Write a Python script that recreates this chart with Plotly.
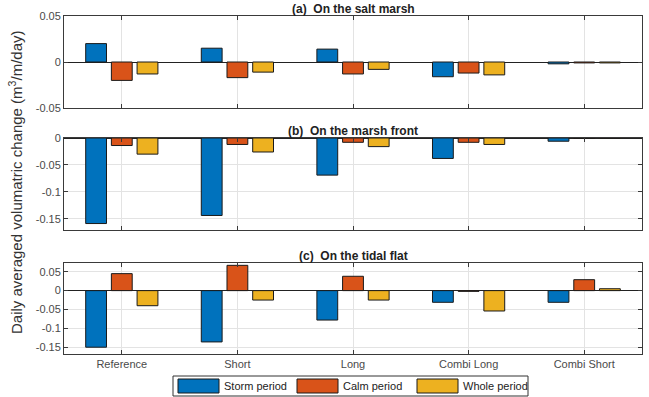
import plotly.graph_objects as go

categories = ["Reference", "Short", "Long", "Combi Long", "Combi Short"]
series_names = ["Storm period", "Calm period", "Whole period"]

# Panel (a) On the salt marsh
salt_storm = [0.020, 0.015, 0.014, -0.016, -0.002]
salt_calm = [-0.020, -0.017, -0.013, -0.012, -0.001]
salt_whole = [-0.013, -0.011, -0.008, -0.014, -0.001]

# Panel (b) On the marsh front
front_storm = [-0.159, -0.144, -0.069, -0.038, -0.006]
front_calm = [-0.014, -0.012, -0.008, -0.008, -0.0008]
front_whole = [-0.030, -0.026, -0.016, -0.012, -0.0008]

# Panel (c) On the tidal flat
flat_storm = [-0.150, -0.136, -0.078, -0.031, -0.031]
flat_calm = [0.045, 0.067, 0.038, -0.002, 0.029]
flat_whole = [-0.040, -0.025, -0.025, -0.054, 0.005]

panel_titles = ["(a)  On the salt marsh", "(b)  On the marsh front", "(c)  On the tidal flat"]
yticks_a = [-0.05, 0, 0.05]
yticks_b = [-0.15, -0.1, -0.05, 0]
yticks_c = [-0.15, -0.1, -0.05, 0, 0.05]
ytext_a = ["-0.05", "0", "0.05"]
ytext_b = ["-0.15", "-0.1", "-0.05", "0"]
ytext_c = ["-0.15", "-0.1", "-0.05", "0", "0.05"]

colors = ["#0072BD", "#D95319", "#EDB120"]

W, H = 649, 397
FONT = "Liberation Sans, Arial, sans-serif"
xdom = [64 / W, 642 / W]
ydoms = [
    [1 - 108 / H, 1 - 16 / H],
    [1 - 230 / H, 1 - 138 / H],
    [1 - 354 / H, 1 - 262.7 / H],
]
yranges = [[-0.05, 0.05], [-0.171, 0.0], [-0.168, 0.074]]
yticks = [yticks_a, yticks_b, yticks_c]
ytexts = [ytext_a, ytext_b, ytext_c]
data = [
    [salt_storm, salt_calm, salt_whole],
    [front_storm, front_calm, front_whole],
    [flat_storm, flat_calm, flat_whole],
]

fig = go.Figure()
tick_font = dict(family=FONT, size=11, color="#4a4a4a")

for p in range(3):
    xa = "x" if p == 0 else f"x{p+1}"
    ya = "y" if p == 0 else f"y{p+1}"
    for s in range(3):
        fig.add_trace(go.Bar(
            x=categories, y=data[p][s], name=series_names[s],
            marker=dict(color=colors[s], line=dict(color="#1a1a1a", width=1)),
            xaxis=xa, yaxis=ya, showlegend=False,
        ))
    xkey = "xaxis" if p == 0 else f"xaxis{p+1}"
    ykey = "yaxis" if p == 0 else f"yaxis{p+1}"
    fig.layout[xkey] = dict(
        domain=xdom, anchor=ya, range=[-0.5, 4.5], type="category",
        showgrid=True, gridcolor="#e3e3e3", gridwidth=1,
        showline=True, linecolor="#3a3a3a", linewidth=1, mirror="ticks",
        ticks="inside", ticklen=4, tickcolor="#3a3a3a",
        showticklabels=(p == 2), tickfont=tick_font, fixedrange=True,
    )
    fig.layout[ykey] = dict(
        domain=ydoms[p], anchor=xa, range=yranges[p],
        tickvals=yticks[p], ticktext=ytexts[p],
        showgrid=True, gridcolor="#e3e3e3", gridwidth=1,
        zeroline=True, zerolinecolor="#222222", zerolinewidth=1,
        showline=True, linecolor="#3a3a3a", linewidth=1, mirror="ticks",
        ticks="inside", ticklen=4, tickcolor="#3a3a3a",
        tickfont=tick_font, fixedrange=True,
    )
    fig.add_annotation(
        text="<b>" + panel_titles[p] + "</b>", xref="paper", yref="paper",
        x=(xdom[0] + xdom[1]) / 2, y=ydoms[p][1], xanchor="center", yanchor="bottom",
        showarrow=False, yshift=-2,
        font=dict(family=FONT, size=12, color="#222222"),
    )

fig.add_annotation(
    text="Daily averaged volumatric change (m<sup>3</sup>/m/day)",
    xref="paper", yref="paper", x=15 / W, y=1 - 183 / H,
    xanchor="center", yanchor="middle", textangle=-90, showarrow=False,
    font=dict(family=FONT, size=15, color="#333333"),
)

# Legend box (drawn like the reference: wide colour swatches)
leg_x0, leg_x1, leg_y0, leg_y1 = 173, 528, 376, 396
fig.add_shape(type="rect", xref="paper", yref="paper",
              x0=leg_x0 / W, x1=leg_x1 / W, y0=1 - leg_y1 / H, y1=1 - leg_y0 / H,
              line=dict(color="#333333", width=1), fillcolor="white")
swatch_x = [178, 297, 417]
for s in range(3):
    fig.add_shape(type="rect", xref="paper", yref="paper",
                  x0=swatch_x[s] / W, x1=(swatch_x[s] + 41) / W,
                  y0=1 - 393 / H, y1=1 - 379 / H,
                  line=dict(color="#1a1a1a", width=1), fillcolor=colors[s])
    fig.add_annotation(text=series_names[s], xref="paper", yref="paper",
                       x=(swatch_x[s] + 44) / W, y=1 - 386 / H,
                       xanchor="left", yanchor="middle", showarrow=False,
                       font=dict(family=FONT, size=11, color="#222222"))

fig.update_layout(
    width=W, height=H,
    margin=dict(l=0, r=0, t=0, b=0, autoexpand=False),
    paper_bgcolor="white", plot_bgcolor="white",
    barmode="group", bargap=0.333, bargroupgap=0.19,
    showlegend=False,
)

fig.write_html("out.html", config={"displayModeBar": False},
               post_script="document.body.style.margin='0';")
